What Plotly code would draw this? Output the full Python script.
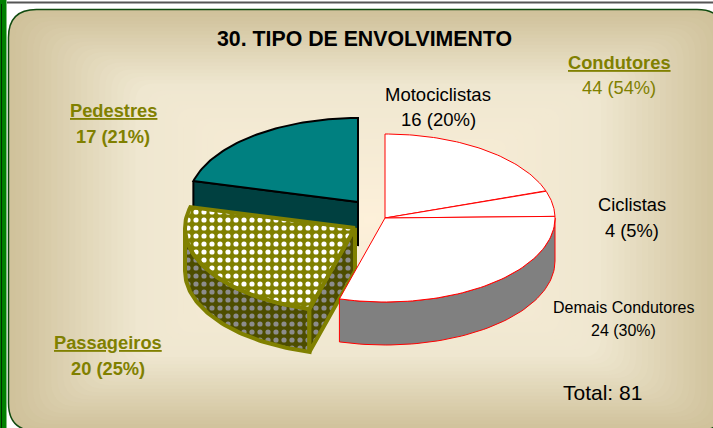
import math
import plotly.graph_objects as go

categories = ["Motociclistas", "Ciclistas", "Demais Condutores", "Passageiros", "Pedestres"]
values = [16, 4, 24, 20, 17]
labels = ["16 (20%)", "4 (5%)", "24 (30%)", "20 (25%)", "17 (21%)"]
group_name = "Condutores"
group_label = "44 (54%)"
title_text = "30. TIPO DE ENVOLVIMENTO"
total_text = "Total: 81"

W, H = 713, 428
RX, RY, DEPTH = 170, 84, 43
centers = {
    "Motociclistas": (385, 218),
    "Ciclistas": (385, 218),
    "Demais Condutores": (385, 218),
    "Passageiros": (355, 228),
    "Pedestres": (358, 202),
}

total = sum(values)
angles = {}
start = 0.0
for name, v in zip(categories, values):
    angles[name] = (start, start + v / total * 360)
    start += v / total * 360


def pt(c, a, dz=0):
    r = math.radians(a)
    return (c[0] + RX * math.sin(r), c[1] - RY * math.cos(r) + dz)


def arc(c, a0, a1, dz=0, n=60):
    return [pt(c, a0 + (a1 - a0) * i / n, dz) for i in range(n + 1)]


def rrect(x0, y0, x1, y1, r):
    return (f"M{x0+r},{y0} L{x1-r},{y0} Q{x1},{y0} {x1},{y0+r} L{x1},{y1-r} Q{x1},{y1} {x1-r},{y1} "
            f"L{x0+r},{y1} Q{x0},{y1} {x0},{y1-r} L{x0},{y0+r} Q{x0},{y0} {x0+r},{y0} Z")


fig = go.Figure()


def poly(points, fill, line, width, pattern=None):
    xs = [p[0] for p in points] + [points[0][0]]
    ys = [p[1] for p in points] + [points[0][1]]
    kw = {"fillpattern": pattern} if pattern else {}
    fig.add_trace(go.Scatter(x=xs, y=ys, mode="lines", fill="toself", fillcolor=fill,
                             line=dict(color=line, width=width), hoverinfo="skip",
                             showlegend=False, **kw))


def wedge(name, fill, line, width, pattern=None):
    c = centers[name]
    a0, a1 = angles[name]
    poly([c] + arc(c, a0, a1), fill, line, width, pattern)


# Pedestres
c = centers["Pedestres"]
a0, a1 = angles["Pedestres"]
poly([pt(c, a0), c, (c[0], c[1] + DEPTH), pt(c, a0, DEPTH)], "#004040", "#000000", 2)
wedge("Pedestres", "#008080", "#000000", 2)

# Passageiros
OL = "#808000"
c = centers["Passageiros"]
a0, a1 = angles["Passageiros"]
dark = dict(shape=".", fgcolor="#8c8c8c", bgcolor="#4d4d00", size=8, solidity=0.33, fgopacity=1, fillmode="replace")
light = dict(shape=".", fgcolor="#ffffff", bgcolor=OL, size=8, solidity=0.33, fgopacity=1, fillmode="replace")
poly(arc(c, a0, 270) + arc(c, 270, a0, DEPTH), "#4d4d00", OL, 4, dark)
poly([pt(c, a0), c, (c[0], c[1] + DEPTH), pt(c, a0, DEPTH)], "#4d4d00", OL, 4, dark)
wedge("Passageiros", OL, OL, 4, light)

# Condutores
c = centers["Demais Condutores"]
a0, a1 = angles["Demais Condutores"]
poly(arc(c, 90, a1) + arc(c, a1, 90, DEPTH), "#808080", "#ff0000", 1)
for name in ["Motociclistas", "Ciclistas", "Demais Condutores"]:
    wedge(name, "#ffffff", "#ff0000", 1)

# Background
shapes = [
    dict(type="rect", x0=0, x1=6.5, y0=0, y1=H, fillcolor="#008000", line_width=0, layer="below"),
    dict(type="line", x0=1.5, x1=1.5, y0=4, y1=H, line=dict(color="#003000", width=1), layer="below"),
    dict(type="line", x0=7, x1=W, y0=2.5, y1=2.5, line=dict(color="#555555", width=2), layer="below"),
    dict(type="path", path=rrect(8.5, 9.5, 725, 431, 28), fillcolor="#d0c29b",
         line=dict(color="#0f4a0f", width=1.5), layer="below"),
]
stops = [(0.0, (207, 193, 154)), (0.35, (239, 231, 208)), (1.0, (253, 240, 218))]
steps = 60
cx0, cy0 = 370, 220
for i in range(1, steps):
    t = i / steps
    (t0, c0), (t1, c1) = (stops[0], stops[1]) if t < stops[1][0] else (stops[1], stops[2])
    u = (t - t0) / (t1 - t0)
    col = "rgb(%d,%d,%d)" % tuple(round(a + (b - a) * u) for a, b in zip(c0, c1))
    x0 = 9 + (cx0 - 9) * t
    x1 = 725 + (cx0 - 725) * t
    y0 = 10 + (cy0 - 10) * t
    y1 = 431 + (cy0 - 431) * t
    shapes.append(dict(type="path", path=rrect(x0, y0, x1, y1, 28 * (1 - t) + 1), fillcolor=col,
                       line_width=0, layer="below"))

OLT = "#808000"


def note(x, y, text, size, color="#000000"):
    return dict(x=x, y=y, text=text, showarrow=False, xref="x", yref="y", xanchor="center",
                yanchor="middle", font=dict(family="Liberation Sans", size=size, color=color))


annotations = [
    note(364, 39, f"<b>{title_text}</b>", 21.3),
    note(619, 62, f"<b><u>{group_name}</u></b>", 18.3, OLT),
    note(619, 87, group_label, 18.3, OLT),
    note(438, 94, categories[0], 18.5),
    note(438, 119, labels[0], 18.5),
    note(632, 204, categories[1], 18.3),
    note(632, 230, labels[1], 18.3),
    note(623, 307, categories[2], 16),
    note(623, 330, labels[2], 16),
    note(108, 342, f"<b><u>{categories[3]}</u></b>", 18.3, OLT),
    note(108, 368, f"<b>{labels[3]}</b>", 18.3, OLT),
    note(113, 110, f"<b><u>{categories[4]}</u></b>", 18.3, OLT),
    note(113, 136, f"<b>{labels[4]}</b>", 18.3, OLT),
    note(602, 392, total_text, 21),
]

fig.update_layout(
    width=W, height=H, margin=dict(l=0, r=0, t=0, b=0), paper_bgcolor="#ffffff", plot_bgcolor="rgba(0,0,0,0)",
    xaxis=dict(range=[0, W], visible=False, fixedrange=True),
    yaxis=dict(range=[H, 0], visible=False, fixedrange=True),
    shapes=shapes, annotations=annotations, showlegend=False,
)
fig.write_html("out.html", config=dict(displayModeBar=False),
               post_script="document.body.style.margin='0';document.body.style.overflow='hidden';")
